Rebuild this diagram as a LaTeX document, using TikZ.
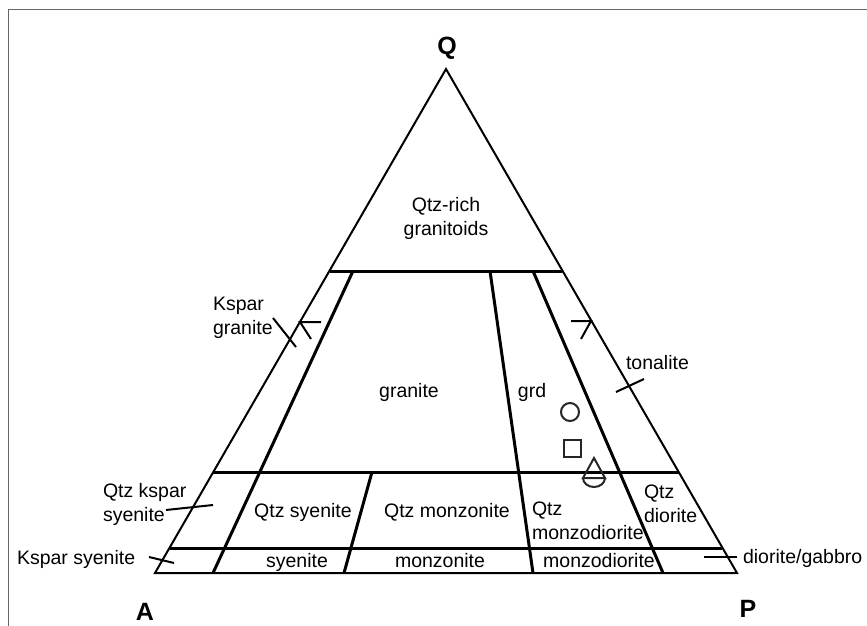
\documentclass[tikz,border=0pt]{standalone}
\usepackage{fontspec}
\setmainfont{Liberation Sans}
\usetikzlibrary{positioning}

\begin{document}
\begin{tikzpicture}[
      x=1pt, y=-1pt,
      every node/.style={inner sep=0pt, outer sep=0pt},
      lbl/.style={font=\fontsize{19.5}{23.5}\selectfont, align=left},
      lblc/.style={lbl, align=center},
      corner/.style={font=\fontsize{25}{28}\selectfont\bfseries},
      rim/.style={line width=2pt, line join=miter},
      div/.style={line width=3pt},
      tickmark/.style={line width=2pt},
      sym/.style={line width=2pt, draw=black!85}]
    \useasboundingbox (0,0) rectangle (867,626);
    \clip (0,0) rectangle (867,626);
    % frame
    \draw[black!60, line width=1.5pt] (8.5,640) |- (880,9.5);
    % corners of the QAP triangle
    \coordinate (A) at (155,573);
    \coordinate (P) at (737,573);
    \coordinate (Q) at (446,69);
    % Q = 60, 20, 5
    \coordinate (q60a) at (330,271);  \coordinate (q60p) at (562,271);
    \coordinate (q20a) at (213,472);  \coordinate (q20p) at (679,472);
    \coordinate (q5a)  at (170,548);  \coordinate (q5p)  at (722,548);
    % P/(A+P) = 10, 35, 65, 90
    \coordinate (r10t) at (353,271);  \coordinate (r10b) at (213,573);
    \coordinate (r35t) at (372,472);  \coordinate (r35b) at (344,573);
    \coordinate (r65t) at (490,271);  \coordinate (r65b) at (533,573);
    \coordinate (r90t) at (533,271);  \coordinate (r90b) at (663,573);

    \draw[rim] (A) -- (P) -- (Q) -- cycle;
    \draw[div] (q60a) -- (q60p);
    \draw[div] (q20a) -- (q20p);
    \draw[div] (q5a) -- (q5p);
    \draw[div] (r10t) -- (r10b);
    \draw[div] (r35t) -- (r35b);
    \draw[div] (r65t) -- (r65b);
    \draw[div] (r90t) -- (r90b);

    % ticks and marks
    \draw[tickmark] (273,318) -- (296,347);
    \draw[tickmark] (321,322) -- (300,322) -- (311,339);
    \draw[tickmark] (571,321) -- (591,321) -- (581,339);
    \draw[tickmark] (616,392) -- (644,379);
    \draw[tickmark] (166,510) -- (213,505);
    \draw[tickmark] (149,557) -- (174,563);
    \draw[tickmark] (704,557) -- (737,557);

    % samples
    \draw[sym] (570,412) circle[radius=9pt];
    \draw[sym] (563.5,440) rectangle (580.5,457);
    \draw[sym] (583,478) -- (594,458) -- (605,478) -- cycle;
    \draw[sym] (583,478) arc[start angle=180, end angle=360, x radius=11pt, y radius=9pt];

    % labels (base of a two-line label is its last line)
    \node[corner, anchor=base] (lQ) at (447,55)  {Q};
    \node[corner, anchor=base] (lA) at (145,620) {A};
    \node[corner, anchor=base] (lP) at (748,617) {P};
    \node[lblc, anchor=base] (qrich)    at (446,235) {Qtz-rich\\granitoids};
    \node[lbl, anchor=base west] (kgran) at (213,334) {Kspar\\granite};
    \node[lbl, anchor=base]  (gran)     at (409,397) {granite};
    \node[lbl, anchor=base]  (grd)      at (532,397) {grd};
    \node[lbl, anchor=base west] (tona) at (626,369) {tonalite};
    \node[lbl, anchor=base west] (qksy) at (103,521) {Qtz kspar\\syenite};
    \node[lbl, anchor=base]  (qsy)      at (303,517) {Qtz syenite};
    \node[lbl, anchor=base]  (qmz)      at (447,517) {Qtz monzonite};
    \node[lbl, anchor=base west] (qmzd) at (532,539) {Qtz\\monzodiorite};
    \node[lbl, anchor=base west] (qdio) at (644,522) {Qtz\\diorite};
    \node[lbl, anchor=base west] (ksy)  at (17,564)  {Kspar syenite};
    \node[lbl, anchor=base]  (sy)       at (297,567) {syenite};
    \node[lbl, anchor=base]  (mz)       at (440,567) {monzonite};
    \node[lbl, anchor=base]  (mzd)      at (599,567) {monzodiorite};
    \node[lbl, anchor=base west] (dgab) at (743,563) {diorite/gabbro};
\end{tikzpicture}
\end{document}
